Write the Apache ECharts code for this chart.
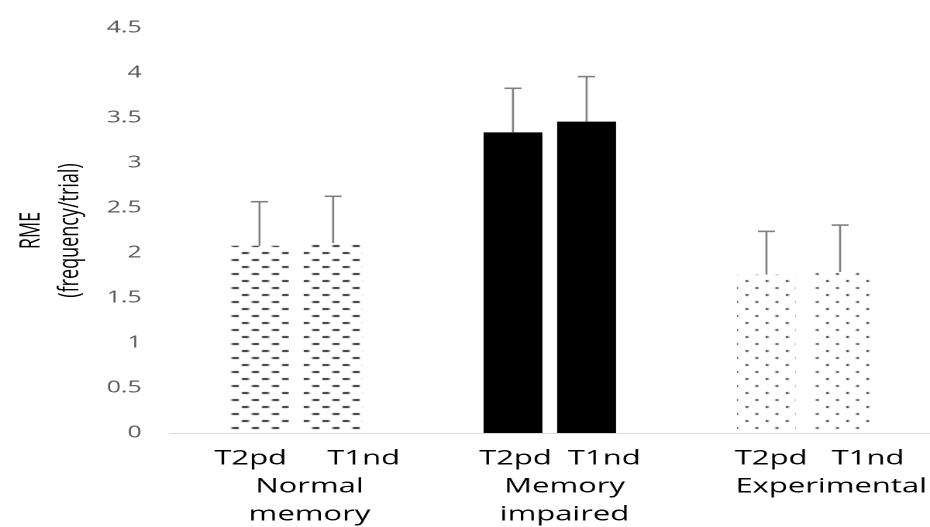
<!DOCTYPE html>
<html><head><meta charset="utf-8">
<script src="https://cdn.jsdelivr.net/npm/echarts@6/dist/echarts.min.js"></script>
<style>
html,body{margin:0;padding:0;overflow:hidden;background:#fff;width:930px;height:527px}
#chart{width:600px;height:527px;transform:scaleX(1.55);transform-origin:0 0}
</style></head><body><div id="chart"></div>
<script>
// ---- data ----
var categories = ['Normal memory', 'Memory impaired', 'Experimental'];
var seriesNames = ['T2pd', 'T1nd'];
var t2pdValues = [2.08, 3.34, 1.76];
var t1ndValues = [2.11, 3.46, 1.79];
var t2pdErrors = [0.49, 0.49, 0.48];
var t1ndErrors = [0.52, 0.50, 0.52];
var yMin = 0, yMax = 4.5, yStep = 0.5;

// ---- styles ----
var FONT = '"Open Sans", sans-serif';
var barW = 38, gapRatio = 0.25;
var labelGapSpaces = [5, 2, 3];
var line1Pad = [14, 13, 21];
var namePad = [17, 19, 36];

function makeTile(draw) {
  var c = document.createElement('canvas');
  c.width = 13; c.height = 14;
  draw(c.getContext('2d'));
  return c;
}
var dashTile = makeTile(function (g) {
  g.fillStyle = '#303030';
  g.fillRect(0, 0, 4.5, 2);
  g.fillRect(6.5, 7, 4.5, 2);
});
var dotTile = makeTile(function (g) {
  g.fillStyle = '#2e2e2e';
  g.fillRect(0, 0, 1.6, 2);
  g.fillRect(6.5, 7, 1.6, 2);
});
var groupFills = [
  { image: dashTile, repeat: 'repeat' },
  '#000000',
  { image: dotTile, repeat: 'repeat' }
];

function barData(vals) {
  return vals.map(function (v, i) {
    return { value: v, itemStyle: { color: groupFills[i] } };
  });
}

var rich = {};
categories.forEach(function (c, i) {
  rich['a' + i] = { fontFamily: FONT, fontSize: 20, color: '#000', lineHeight: 28, padding: [0, 0, 0, line1Pad[i]] };
  rich['b' + i] = { fontFamily: FONT, fontSize: 20, color: '#000', lineHeight: 28, padding: [0, 0, 0, namePad[i]] };
});

var half = (barW + barW * gapRatio) / 2;
function errSeries(vals, errs, offset) {
  return {
    type: 'custom',
    silent: true,
    z: 5,
    data: vals.map(function (v, i) { return [i, v, errs[i]]; }),
    renderItem: function (params, api) {
      var i = api.value(0), v = api.value(1), e = api.value(2);
      var b = api.coord([i, v]);
      var t = api.coord([i, v + e]);
      var x = b[0] + offset;
      return {
        type: 'group',
        children: [
          { type: 'line', shape: { x1: x, y1: b[1], x2: x, y2: t[1] }, style: { stroke: '#7f7f7f', lineWidth: 1.3 } },
          { type: 'line', shape: { x1: x - 5.5, y1: t[1], x2: x + 5.5, y2: t[1] }, style: { stroke: '#7f7f7f', lineWidth: 1.6 } }
        ]
      };
    }
  };
}

var chart = echarts.init(document.getElementById('chart'), null, { renderer: 'canvas', devicePixelRatio: 2 });
chart.setOption({
  animation: false,
  backgroundColor: '#fff',
  grid: { left: 101, width: 501, top: 28, height: 405, containLabel: false },
  xAxis: {
    type: 'category',
    data: categories,
    axisLine: { lineStyle: { color: '#d9d9d9', width: 1 } },
    axisTick: { show: false },
    axisLabel: {
      margin: 12,
      interval: 0,
      formatter: function (value, idx) {
        var words = value.split(' ');
        var line1 = seriesNames[0] + new Array(labelGapSpaces[idx] + 1).join(' ') + seriesNames[1];
        var s = '{a' + idx + '|' + line1 + '}';
        words.forEach(function (w) { s += '\n{b' + idx + '|' + w + '}'; });
        return s;
      },
      rich: rich
    }
  },
  yAxis: {
    type: 'value',
    min: yMin, max: yMax, interval: yStep,
    axisLine: { show: false },
    axisTick: { show: false },
    splitLine: { show: false },
    axisLabel: { margin: 18, fontFamily: FONT, fontSize: 16, color: '#595959' },
    name: 'RME\n(frequency/trial)',
    nameLocation: 'middle',
    nameRotate: 90,
    nameGap: 50,
    nameTextStyle: { fontFamily: FONT, fontSize: 18, color: '#000', lineHeight: 25 }
  },
  series: [
    { name: seriesNames[0], type: 'bar', barWidth: barW, barGap: (gapRatio * 100) + '%', data: barData(t2pdValues) },
    { name: seriesNames[1], type: 'bar', barWidth: barW, barGap: (gapRatio * 100) + '%', data: barData(t1ndValues) },
    errSeries(t2pdValues, t2pdErrors, -half),
    errSeries(t1ndValues, t1ndErrors, half)
  ]
});
</script></body></html>
